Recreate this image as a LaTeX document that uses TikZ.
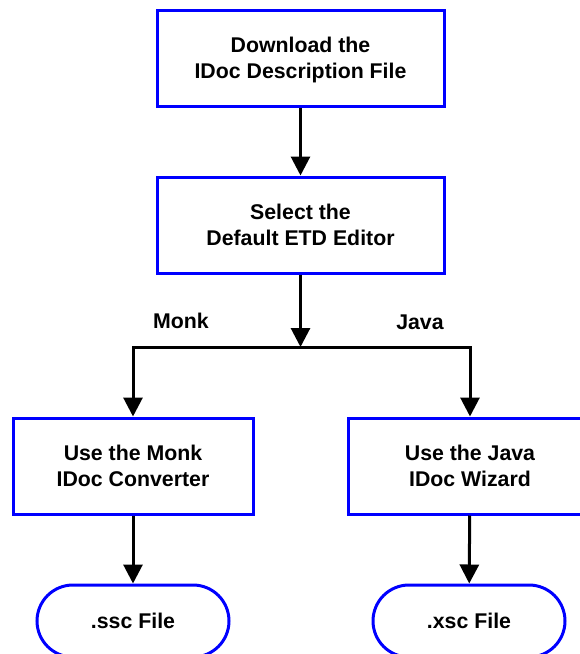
\documentclass[tikz,border=0pt]{standalone}
\usepackage{fontspec}
\setmainfont{Liberation Sans}
\usetikzlibrary{arrows.meta,shapes.misc}
\begin{document}
\begin{tikzpicture}[x=1pt,y=-1pt,
  txt/.style={font=\bfseries\fontsize{21.3}{26.5}\selectfont, align=center, text=black},
  box/.style={txt, draw=blue, line width=3pt, fill=white, minimum height=96pt, inner sep=0pt, text height=46.5pt, text depth=5pt},
  term/.style={txt, draw=blue, line width=3pt, fill=white, rounded rectangle, minimum width=192pt, minimum height=72pt, inner sep=0pt},
  arr/.style={draw=black, line width=3pt, -{Triangle[length=19pt,width=19pt]}},
  lbl/.style={txt}
]
\useasboundingbox (0,0) rectangle (579,654);
\node[box, minimum width=287pt] (b1) at (300.5,58) {Download the\\IDoc Description File};
\node[box, minimum width=287pt] (b2) at (300.5,225) {Select the\\Default ETD Editor};
\coordinate (j) at (300.5,347);
\node[box, minimum width=240pt] (b3) at (133,466) {Use the Monk\\IDoc Converter};
\node[box, minimum width=244pt] (b4) at (470,466) {Use the Java\\IDoc Wizard};
\node[term] (t1) at (133,621) {.ssc File};
\node[term] (t2) at (469,621) {.xsc File};
\node[lbl] (monk) at (181,321) {Monk};
\node[lbl] (java) at (420,322) {Java};
\draw[arr] (b1) -- (b2);
\draw[arr] (b2) -- (j);
\draw[arr] (j) -| (b3);
\draw[arr] (j) -| (b4);
\draw[arr] (b3) -- (t1);
\draw[arr] (b4) -- (t2);
\end{tikzpicture}
\end{document}
